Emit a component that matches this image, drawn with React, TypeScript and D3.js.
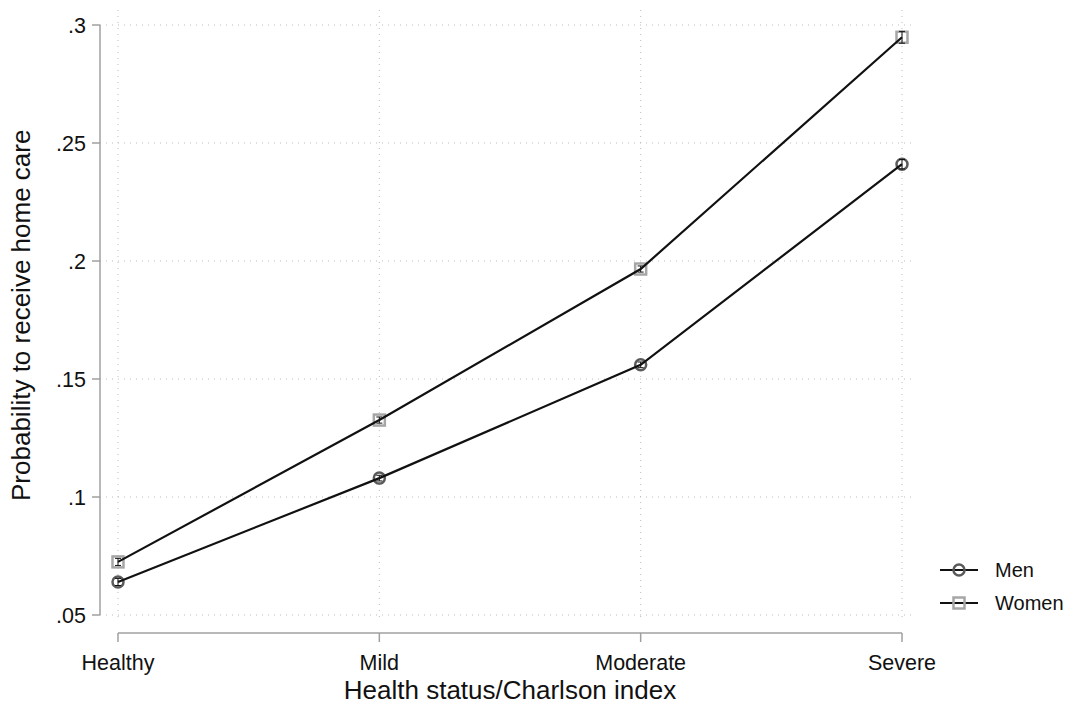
import React from "react";
import * as d3 from "d3";

const categories = ["Healthy", "Mild", "Moderate", "Severe"];
const menValues = [0.064, 0.108, 0.156, 0.241];
const womenValues = [0.0725, 0.1326, 0.1966, 0.2948];
const menCI = [0.0015, 0.0012, 0.0012, 0.002];
const womenCI = [0.0015, 0.0013, 0.0013, 0.0025];
const yTicks = [0.05, 0.1, 0.15, 0.2, 0.25, 0.3];
const yTickLabels = [".05", ".1", ".15", ".2", ".25", ".3"];
const seriesNames = ["Men", "Women"];

export default function App() {
  const W = 1073, H = 706;
  const font = "Liberation Sans, Arial, Helvetica, sans-serif";
  const x = d3.scalePoint<string>().domain(categories).range([118, 902]);
  const y = d3.scaleLinear().domain([0.05, 0.3]).range([615, 25]);
  const line = d3.line<number>().x((_, i) => x(categories[i])!).y((d) => y(d));
  const series = [
    { name: seriesNames[0], values: menValues, ci: menCI, color: "#5a5a5a", shape: "circle" },
    { name: seriesNames[1], values: womenValues, ci: womenCI, color: "#a6a6a6", shape: "square" },
  ];
  const marker = (s: any, cx: number, cy: number, key: string) =>
    s.shape === "circle" ? (
      <circle key={key} cx={cx} cy={cy} r={5.5} fill="none" stroke={s.color} strokeWidth={2.5} />
    ) : (
      <rect key={key} x={cx - 5.5} y={cy - 5.5} width={11} height={11} fill="none" stroke={s.color} strokeWidth={2.5} />
    );
  return (
    <svg width={W} height={H} style={{ position: "absolute", left: 0, top: 0, background: "#fff" }}>
      <rect width={W} height={H} fill="#fff" />
      {/* grid */}
      {yTicks.map((t) => (
        <line key={"hg" + t} x1={100} x2={916} y1={y(t)} y2={y(t)} stroke="#bdbdbd" strokeWidth={1} strokeDasharray="1 5" />
      ))}
      {categories.map((c) => (
        <line key={"vg" + c} x1={x(c)} x2={x(c)} y1={10} y2={620} stroke="#bdbdbd" strokeWidth={1} strokeDasharray="1 5" />
      ))}
      {/* y axis */}
      <line x1={100} x2={100} y1={y(0.3)} y2={y(0.05)} stroke="#a0a0a0" strokeWidth={1.5} />
      {yTicks.map((t, i) => (
        <g key={"yt" + t}>
          <line x1={92} x2={100} y1={y(t)} y2={y(t)} stroke="#a0a0a0" strokeWidth={1.5} />
          <text x={86} y={y(t)} dy="0.35em" textAnchor="end" fontFamily={font} fontSize={21.5} fill="#111">
            {yTickLabels[i]}
          </text>
        </g>
      ))}
      <text transform={`translate(30,${y(0.177)}) rotate(-90)`} textAnchor="middle" fontFamily={font} fontSize={26} fill="#111">
        Probability to receive home care
      </text>
      {/* x axis */}
      <line x1={x(categories[0])} x2={x(categories[3])} y1={633} y2={633} stroke="#a0a0a0" strokeWidth={1.5} />
      {categories.map((c) => (
        <g key={"xt" + c}>
          <line x1={x(c)} x2={x(c)} y1={633} y2={642} stroke="#a0a0a0" strokeWidth={1.5} />
          <text x={x(c)} y={670} textAnchor="middle" fontFamily={font} fontSize={21.5} fill="#111">
            {c}
          </text>
        </g>
      ))}
      <text x={510} y={699} textAnchor="middle" fontFamily={font} fontSize={26} fill="#111">
        Health status/Charlson index
      </text>
      {/* series */}
      {series.map((s) => (
        <g key={s.name}>
          {s.values.map((v, i) => marker(s, x(categories[i])!, y(v), s.name + i))}
          {s.values.map((v, i) => {
            const cx = x(categories[i])!;
            return (
              <g key={s.name + "ci" + i}>
                <line x1={cx} x2={cx} y1={y(v - s.ci[i])} y2={y(v + s.ci[i])} stroke="#111" strokeWidth={1} />
                <line x1={cx - 3} x2={cx + 3} y1={y(v - s.ci[i])} y2={y(v - s.ci[i])} stroke="#111" strokeWidth={1} />
                <line x1={cx - 3} x2={cx + 3} y1={y(v + s.ci[i])} y2={y(v + s.ci[i])} stroke="#111" strokeWidth={1} />
              </g>
            );
          })}
          <path d={line(s.values)!} fill="none" stroke="#111" strokeWidth={2.2} />
        </g>
      ))}
      {/* legend */}
      {series.map((s, i) => {
        const ly = 570 + i * 33;
        return (
          <g key={"lg" + s.name}>
            <line x1={940} x2={978} y1={ly} y2={ly} stroke="#111" strokeWidth={2.2} />
            {marker(s, 959, ly, "lm" + i)}
            <text x={995} y={ly} dy="0.35em" fontFamily={font} fontSize={20} fill="#111">
              {s.name}
            </text>
          </g>
        );
      })}
    </svg>
  );
}
